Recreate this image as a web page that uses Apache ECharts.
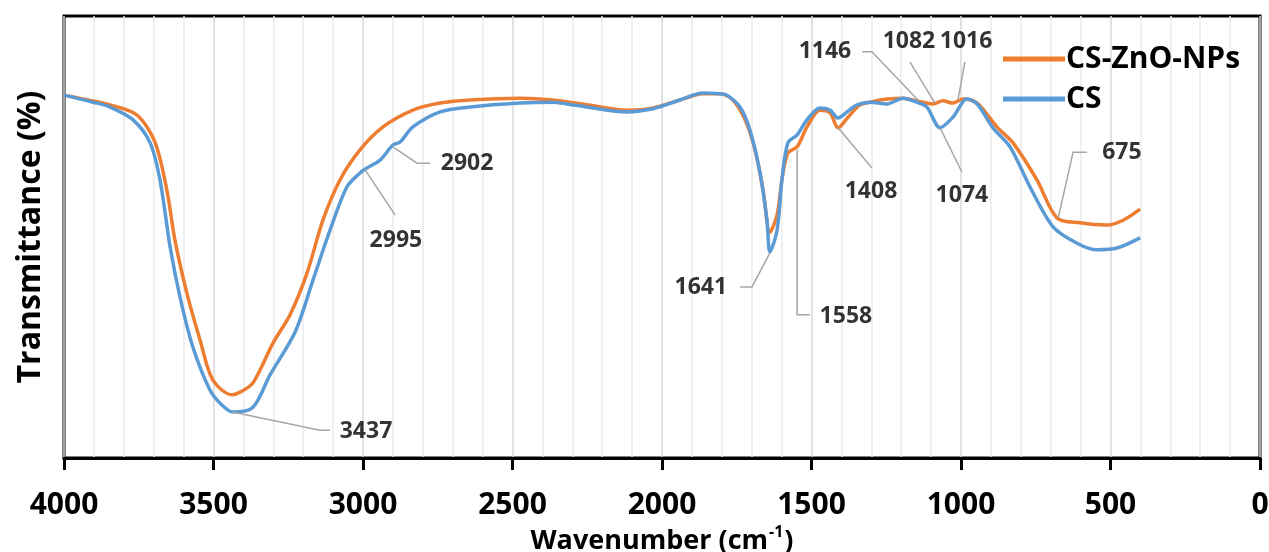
<!DOCTYPE html>
<html>
<head>
<meta charset="utf-8">
<script src="https://cdn.jsdelivr.net/npm/echarts@6/dist/echarts.min.js"></script>
<style>html,body{margin:0;padding:0;background:#fff;}#chart{width:1269px;height:552px;}</style>
</head>
<body>
<div id="chart"></div>
<script>
// ---- Data ----
const seriesNames = ['CS-ZnO-NPs', 'CS'];
const xTickValues = [4000, 3500, 3000, 2500, 2000, 1500, 1000, 500, 0];

const znoWavenumber = [4000,3903,3846,3756,3696,3656,3629,3589,3545,3502,3438,3411,3368,3301,3244,3187,3134,3077,3010,2933,2833,2742,2642,2475,2365,2251,2117,2030,1940,1863,1806,1763,1722,1689,1662,1639,1615,1599,1579,1548,1515,1472,1438,1411,1378,1338,1304,1247,1194,1147,1094,1060,1027,993,946,880,826,746,679,602,512,458,401];
const znoTransmittance = [82.1,80.8,79.9,77.6,71.5,60.6,49.3,37.3,26.7,17.6,14.3,14.9,17.0,26.0,32.4,41.9,53.8,62.9,69.7,74.9,78.7,80.3,81.0,81.4,81.0,79.9,78.7,79.2,81.0,82.4,82.4,81.0,76.5,69.7,60.6,51.1,55.0,62.9,69.0,70.4,74.9,78.7,78.1,74.7,77.1,79.9,80.5,81.2,81.4,80.8,80.1,80.8,80.3,81.2,80.3,74.9,71.3,62.9,54.3,53.2,52.7,53.8,56.3];

const csWavenumber = [4000,3903,3846,3769,3712,3679,3645,3612,3569,3512,3472,3435,3368,3311,3227,3167,3110,3054,3010,2987,2943,2900,2876,2833,2742,2642,2475,2365,2318,2251,2117,2030,1940,1863,1806,1783,1739,1706,1672,1649,1639,1615,1599,1579,1548,1515,1472,1438,1411,1381,1348,1304,1247,1194,1147,1114,1070,1027,980,946,893,836,769,692,612,545,478,401];
const csTransmittance = [82.1,80.5,79.4,76.5,71.3,62.9,47.7,36.4,25.1,15.4,12.0,10.4,11.5,18.8,28.5,40.3,51.6,61.3,64.5,65.6,67.4,70.8,71.5,74.9,78.3,79.4,80.3,80.5,80.1,79.4,78.3,79.0,81.0,82.6,82.4,82.1,79.4,74.2,64.5,53.8,46.6,51.6,62.9,71.3,73.1,76.5,79.2,78.7,76.9,78.3,79.9,80.5,80.1,81.4,80.5,79.4,74.7,77.1,81.2,80.1,74.7,70.4,61.3,52.3,48.6,47.1,47.5,49.8];

// Peak annotations: label, label position (wavenumber, transmittance), leader path
const annotLabels = ['3437','2995','2902','1641','1558','1408','1074','1146','1082','1016','675'];
const annotTextX = [2990, 2890, 2652, 1870, 1385, 1301, 997, 1455, 1174, 983, 462];
const annotTextY = [6.1, 49.3, 66.7, 38.5, 32.1, 60.2, 59.5, 91.9, 94.3, 94.3, 69.2];
const annotPaths = [
  [[3437,10.4],[3144,6.3],[3110,6.3]],
  [[2993,65.2],[2893,55.0]],
  [[2900,70.4],[2819,66.7],[2776,66.7]],
  [[1639,46.4],[1699,38.7],[1739,38.7]],
  [[1548,69.7],[1548,32.4],[1505,32.4]],
  [[1411,74.7],[1298,65.6]],
  [[1070,74.7],[997,64.7]],
  [[1331,91.9],[1298,91.9],[1144,81.0]],
  [[1171,89.6],[1087,80.3]],
  [[987,89.6],[1010,81.0]],
  [[675,54.3],[625,69.2],[579,69.2]]
];

// ---- Build options ----
const FONT = 'Open Sans';
const zip = (xs, ys) => xs.map((x, i) => [x, ys[i]]);

const chart = echarts.init(document.getElementById('chart'), null, {renderer: 'canvas'});
chart.setOption({
  animation: false,
  backgroundColor: '#ffffff',
  grid: {left: 64, right: 9, top: 16, bottom: 94, outerBoundsMode: 'none', containLabel: false,
    show: true, borderColor: '#000', borderWidth: 3, backgroundColor: 'transparent'},
  legend: {
    data: seriesNames,
    orient: 'vertical',
    left: 998,
    top: 39,
    itemWidth: 62,
    itemHeight: 5,
    itemGap: 10,
    icon: 'rect',
    textStyle: {fontFamily: FONT, fontWeight: 'bold', fontSize: 30, lineHeight: 30, color: '#000', padding: [0, 0, 0, -4]}
  },
  xAxis: {
    type: 'value',
    inverse: true,
    min: 0,
    max: 4000,
    interval: 500,
    name: '{b|Wavenumber (cm}{s|-1}{b|)}',
    nameLocation: 'middle',
    nameGap: 63,
    nameTextStyle: {
      rich: {
        b: {fontFamily: FONT, fontWeight: 'bold', fontSize: 27, color: '#000', lineHeight: 30, verticalAlign: 'bottom'},
        s: {fontFamily: FONT, fontWeight: 'bold', fontSize: 16, color: '#000', lineHeight: 30, verticalAlign: 'top', padding: [0, 1, 12, 1]}
      }
    },
    axisLine: {show: true, lineStyle: {color: '#000', width: 3}},
    axisTick: {show: true, length: 12, inside: false, lineStyle: {color: '#000', width: 3}},
    axisLabel: {fontFamily: FONT, fontWeight: 'bold', fontSize: 30, color: '#000', margin: 32,
      formatter: v => (xTickValues.indexOf(v) >= 0 ? String(v) : '')},
    splitLine: {show: true, lineStyle: {color: '#d9d9d9', width: 1.5}},
    minorTick: {show: false, splitNumber: 5},
    minorSplitLine: {show: true, lineStyle: {color: '#ececec', width: 1.5}}
  },
  yAxis: {
    type: 'value',
    min: 0,
    max: 100,
    name: 'Transmittance (%)',
    nameLocation: 'middle',
    nameGap: 17,
    nameTextStyle: {fontFamily: FONT, fontWeight: 'bold', fontSize: 32, color: '#000'},
    axisLine: {show: false},
    axisTick: {show: false},
    axisLabel: {show: false},
    splitLine: {show: false}
  },
  series: [
    {
      name: 'CS-ZnO-NPs', type: 'line', data: zip(znoWavenumber, znoTransmittance),
      showSymbol: false, symbol: 'none', smooth: 0.3,
      lineStyle: {color: '#ED7D31', width: 3.5}, itemStyle: {color: '#ED7D31'}, z: 3
    },
    {
      name: 'CS', type: 'line', data: zip(csWavenumber, csTransmittance),
      showSymbol: false, symbol: 'none', smooth: 0.3,
      lineStyle: {color: '#5B9BD5', width: 3.5}, itemStyle: {color: '#5B9BD5'}, z: 4
    },
    {
      name: 'leaders', type: 'lines', coordinateSystem: 'cartesian2d', polyline: true, silent: true,
      lineStyle: {color: '#a6a6a6', width: 1.5, opacity: 1},
      data: annotPaths.map(p => ({coords: p})), z: 5
    },
    {
      name: 'peakLabels', type: 'scatter', symbolSize: 0, silent: true,
      data: annotLabels.map((t, i) => ({name: t, value: [annotTextX[i], annotTextY[i]]})),
      label: {show: true, position: 'inside', formatter: p => p.name,
        fontFamily: FONT, fontWeight: 'bold', fontSize: 23, color: '#000', textBorderWidth: 0},
      z: 6
    }
  ]
});
</script>
</body>
</html>
